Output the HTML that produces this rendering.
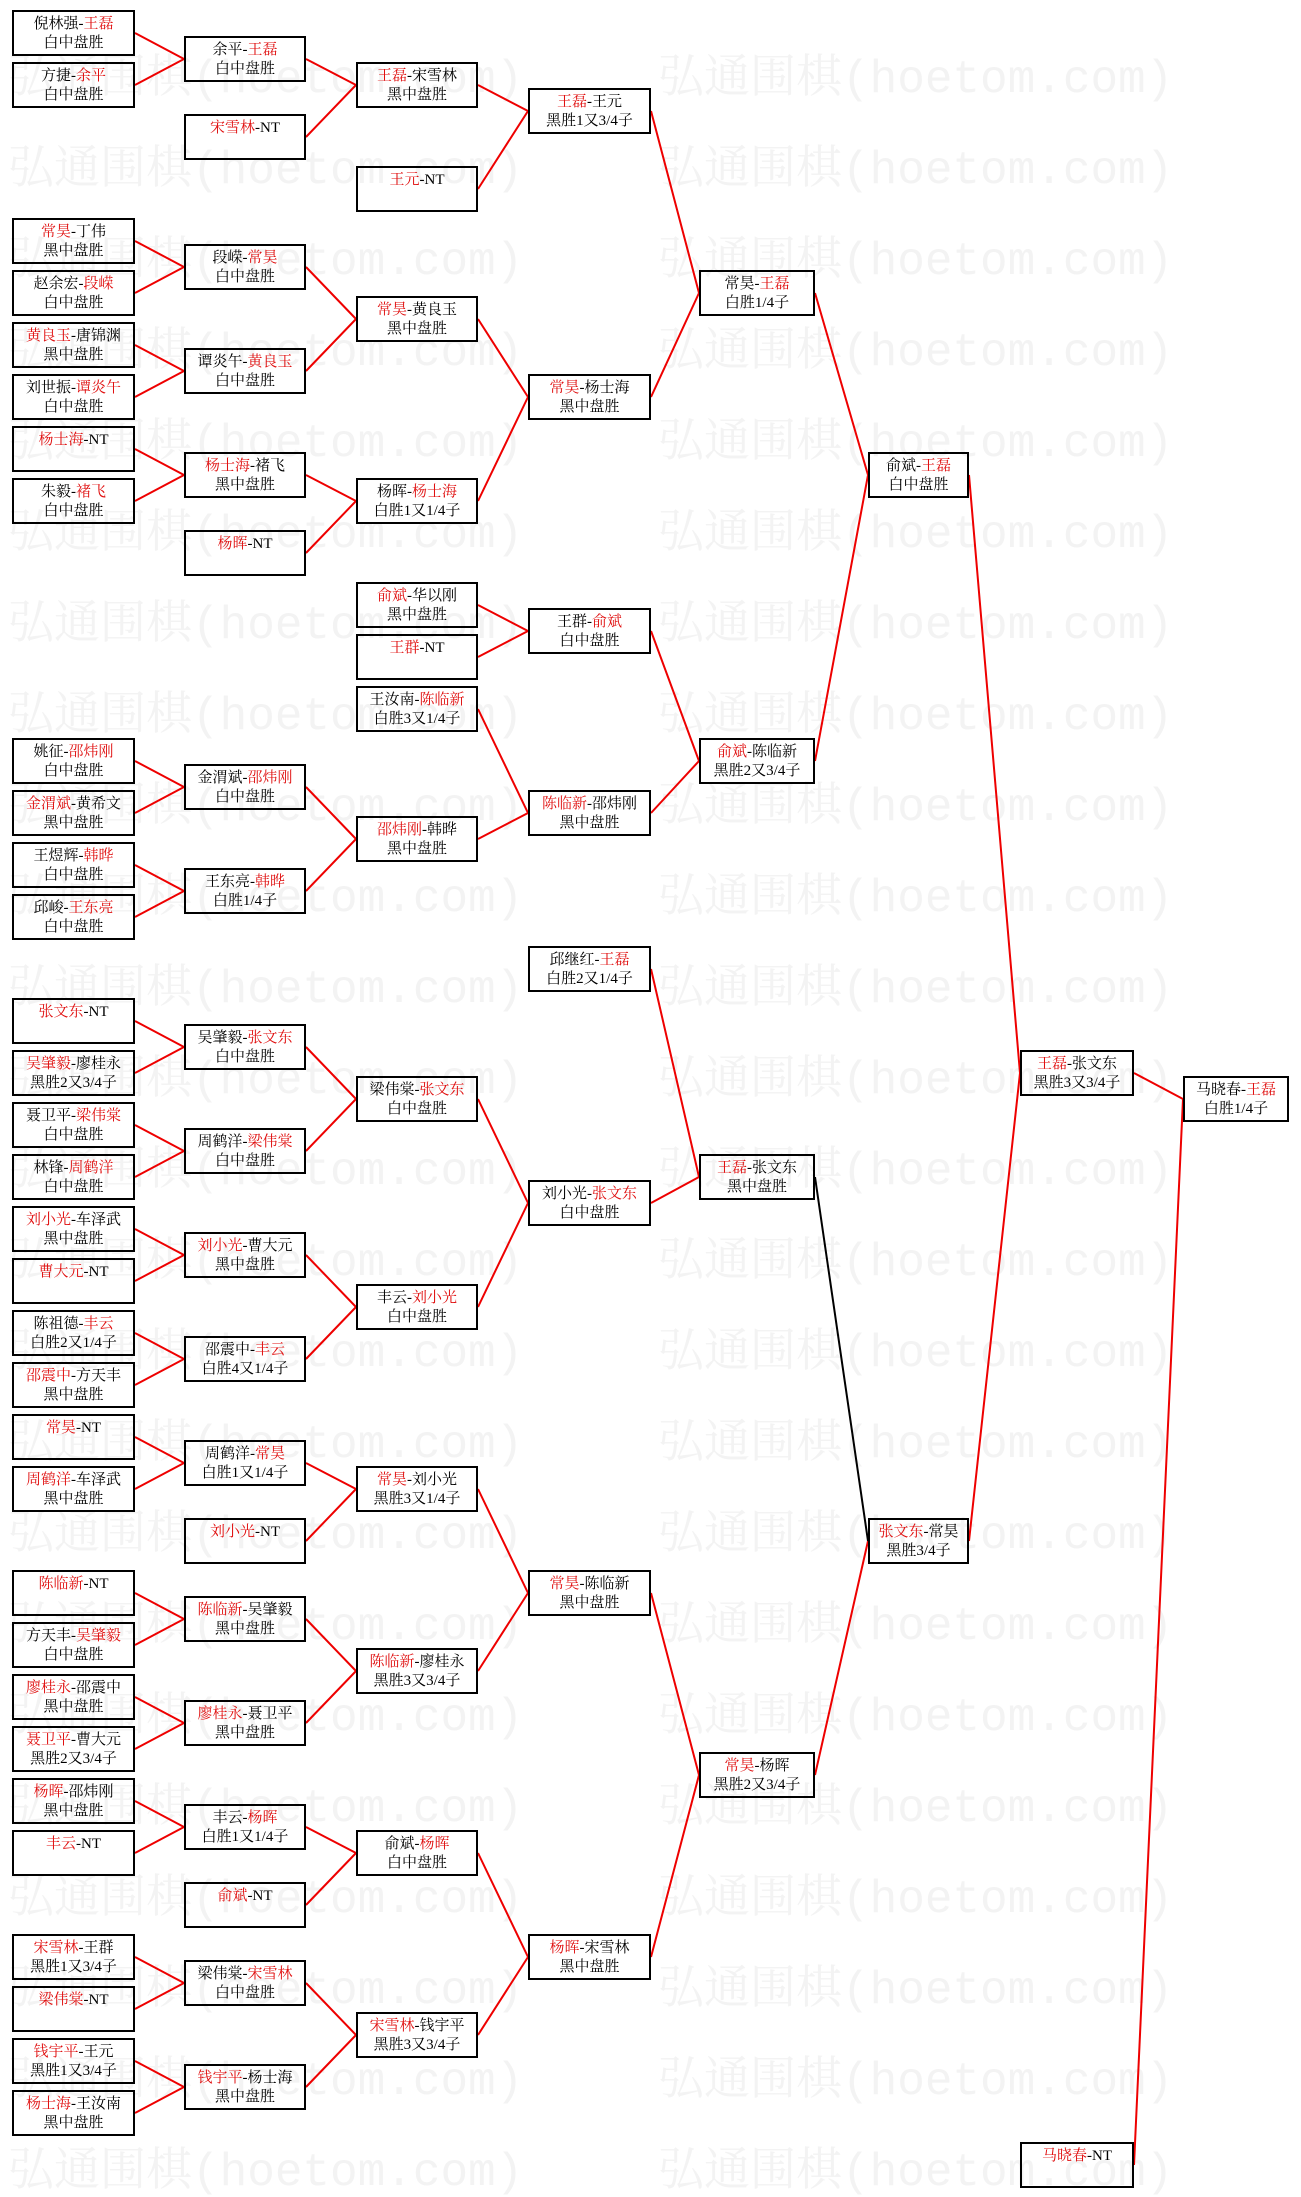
<!DOCTYPE html>
<html><head><meta charset="utf-8"><style>
html,body{margin:0;padding:0;background:#fff;}
#w{position:relative;width:1301px;height:2197px;overflow:hidden;background:#fff;font-family:"Liberation Serif","Noto Serif CJK SC",serif;}
.wm{position:absolute;font-size:46px;color:#f3f3f3;white-space:nowrap;font-family:"Liberation Mono","Noto Serif CJK SC",monospace;}
.b{position:absolute;height:42px;border:2px solid #000;box-sizing:content-box;text-align:center;font-size:15px;line-height:19px;padding-top:0;color:#000;}
.b div{margin-top:3px}
.r{color:#e01010}
svg{position:absolute;left:0;top:0}
</style></head><body><div id="w">
<div id="wms"></div>
<div class="wm" style="left:8px;top:40px">弘通围棋(hoetom.com)</div><div class="wm" style="left:658px;top:40px">弘通围棋(hoetom.com)</div>
<div class="wm" style="left:8px;top:131px">弘通围棋(hoetom.com)</div><div class="wm" style="left:658px;top:131px">弘通围棋(hoetom.com)</div>
<div class="wm" style="left:8px;top:222px">弘通围棋(hoetom.com)</div><div class="wm" style="left:658px;top:222px">弘通围棋(hoetom.com)</div>
<div class="wm" style="left:8px;top:313px">弘通围棋(hoetom.com)</div><div class="wm" style="left:658px;top:313px">弘通围棋(hoetom.com)</div>
<div class="wm" style="left:8px;top:404px">弘通围棋(hoetom.com)</div><div class="wm" style="left:658px;top:404px">弘通围棋(hoetom.com)</div>
<div class="wm" style="left:8px;top:495px">弘通围棋(hoetom.com)</div><div class="wm" style="left:658px;top:495px">弘通围棋(hoetom.com)</div>
<div class="wm" style="left:8px;top:586px">弘通围棋(hoetom.com)</div><div class="wm" style="left:658px;top:586px">弘通围棋(hoetom.com)</div>
<div class="wm" style="left:8px;top:677px">弘通围棋(hoetom.com)</div><div class="wm" style="left:658px;top:677px">弘通围棋(hoetom.com)</div>
<div class="wm" style="left:8px;top:768px">弘通围棋(hoetom.com)</div><div class="wm" style="left:658px;top:768px">弘通围棋(hoetom.com)</div>
<div class="wm" style="left:8px;top:859px">弘通围棋(hoetom.com)</div><div class="wm" style="left:658px;top:859px">弘通围棋(hoetom.com)</div>
<div class="wm" style="left:8px;top:950px">弘通围棋(hoetom.com)</div><div class="wm" style="left:658px;top:950px">弘通围棋(hoetom.com)</div>
<div class="wm" style="left:8px;top:1041px">弘通围棋(hoetom.com)</div><div class="wm" style="left:658px;top:1041px">弘通围棋(hoetom.com)</div>
<div class="wm" style="left:8px;top:1132px">弘通围棋(hoetom.com)</div><div class="wm" style="left:658px;top:1132px">弘通围棋(hoetom.com)</div>
<div class="wm" style="left:8px;top:1223px">弘通围棋(hoetom.com)</div><div class="wm" style="left:658px;top:1223px">弘通围棋(hoetom.com)</div>
<div class="wm" style="left:8px;top:1314px">弘通围棋(hoetom.com)</div><div class="wm" style="left:658px;top:1314px">弘通围棋(hoetom.com)</div>
<div class="wm" style="left:8px;top:1405px">弘通围棋(hoetom.com)</div><div class="wm" style="left:658px;top:1405px">弘通围棋(hoetom.com)</div>
<div class="wm" style="left:8px;top:1496px">弘通围棋(hoetom.com)</div><div class="wm" style="left:658px;top:1496px">弘通围棋(hoetom.com)</div>
<div class="wm" style="left:8px;top:1587px">弘通围棋(hoetom.com)</div><div class="wm" style="left:658px;top:1587px">弘通围棋(hoetom.com)</div>
<div class="wm" style="left:8px;top:1678px">弘通围棋(hoetom.com)</div><div class="wm" style="left:658px;top:1678px">弘通围棋(hoetom.com)</div>
<div class="wm" style="left:8px;top:1769px">弘通围棋(hoetom.com)</div><div class="wm" style="left:658px;top:1769px">弘通围棋(hoetom.com)</div>
<div class="wm" style="left:8px;top:1860px">弘通围棋(hoetom.com)</div><div class="wm" style="left:658px;top:1860px">弘通围棋(hoetom.com)</div>
<div class="wm" style="left:8px;top:1951px">弘通围棋(hoetom.com)</div><div class="wm" style="left:658px;top:1951px">弘通围棋(hoetom.com)</div>
<div class="wm" style="left:8px;top:2042px">弘通围棋(hoetom.com)</div><div class="wm" style="left:658px;top:2042px">弘通围棋(hoetom.com)</div>
<div class="wm" style="left:8px;top:2133px">弘通围棋(hoetom.com)</div><div class="wm" style="left:658px;top:2133px">弘通围棋(hoetom.com)</div>

<svg width="1301" height="2197" fill="none" stroke="#e00" stroke-width="2">
<path d="M135 33L184 59M135 85L184 59M135 241L184 267M135 293L184 267M135 345L184 371M135 397L184 371M135 449L184 475M135 501L184 475M135 761L184 787M135 813L184 787M135 865L184 891M135 917L184 891M135 1021L184 1047M135 1073L184 1047M135 1125L184 1151M135 1177L184 1151M135 1229L184 1255M135 1281L184 1255M135 1333L184 1359M135 1385L184 1359M135 1437L184 1463M135 1489L184 1463M135 1593L184 1619M135 1645L184 1619M135 1697L184 1723M135 1749L184 1723M135 1801L184 1827M135 1853L184 1827M135 1957L184 1983M135 2009L184 1983M135 2061L184 2087M135 2113L184 2087"/>
<path d="M306 59L356 85M306 137L356 85M306 267L356 319M306 371L356 319M306 475L356 501M306 553L356 501M306 787L356 839M306 891L356 839M306 1047L356 1099M306 1151L356 1099M306 1255L356 1307M306 1359L356 1307M306 1463L356 1489M306 1541L356 1489M306 1619L356 1671M306 1723L356 1671M306 1827L356 1853M306 1905L356 1853M306 1983L356 2035M306 2087L356 2035"/>
<path d="M478 85L528 111M478 189L528 111M478 319L528 397M478 501L528 397M478 605L528 631M478 657L528 631M478 709L528 813M478 839L528 813M478 1099L528 1203M478 1307L528 1203M478 1489L528 1593M478 1671L528 1593M478 1853L528 1957M478 2035L528 1957"/>
<path d="M651 111L699 293M651 397L699 293M651 631L699 761M651 813L699 761M651 969L699 1177M651 1203L699 1177M651 1593L699 1775M651 1957L699 1775"/>
<path d="M815 293L868 475M815 761L868 475M815 1775L868 1541M969 475L1020 1073M969 1541L1020 1073M1134 1073L1183 1099M1134 2165L1183 1099"/>
<path d="M815 1177L868 1541" stroke="#000"/>
</svg>

<!-- col0 -->
<div class="b" style="left:12px;top:10px;width:119px"><div>倪林强-<span class="r">王磊</span><br>白中盘胜</div></div>
<div class="b" style="left:12px;top:62px;width:119px"><div>方捷-<span class="r">余平</span><br>白中盘胜</div></div>
<div class="b" style="left:12px;top:218px;width:119px"><div><span class="r">常昊</span>-丁伟<br>黑中盘胜</div></div>
<div class="b" style="left:12px;top:270px;width:119px"><div>赵余宏-<span class="r">段嵘</span><br>白中盘胜</div></div>
<div class="b" style="left:12px;top:322px;width:119px"><div><span class="r">黄良玉</span>-唐锦渊<br>黑中盘胜</div></div>
<div class="b" style="left:12px;top:374px;width:119px"><div>刘世振-<span class="r">谭炎午</span><br>白中盘胜</div></div>
<div class="b" style="left:12px;top:426px;width:119px"><div><span class="r">杨士海</span>-NT</div></div>
<div class="b" style="left:12px;top:478px;width:119px"><div>朱毅-<span class="r">褚飞</span><br>白中盘胜</div></div>
<div class="b" style="left:12px;top:738px;width:119px"><div>姚征-<span class="r">邵炜刚</span><br>白中盘胜</div></div>
<div class="b" style="left:12px;top:790px;width:119px"><div><span class="r">金渭斌</span>-黄希文<br>黑中盘胜</div></div>
<div class="b" style="left:12px;top:842px;width:119px"><div>王煜辉-<span class="r">韩晔</span><br>白中盘胜</div></div>
<div class="b" style="left:12px;top:894px;width:119px"><div>邱峻-<span class="r">王东亮</span><br>白中盘胜</div></div>
<div class="b" style="left:12px;top:998px;width:119px"><div><span class="r">张文东</span>-NT</div></div>
<div class="b" style="left:12px;top:1050px;width:119px"><div><span class="r">吴肇毅</span>-廖桂永<br>黑胜2又3/4子</div></div>
<div class="b" style="left:12px;top:1102px;width:119px"><div>聂卫平-<span class="r">梁伟棠</span><br>白中盘胜</div></div>
<div class="b" style="left:12px;top:1154px;width:119px"><div>林锋-<span class="r">周鹤洋</span><br>白中盘胜</div></div>
<div class="b" style="left:12px;top:1206px;width:119px"><div><span class="r">刘小光</span>-车泽武<br>黑中盘胜</div></div>
<div class="b" style="left:12px;top:1258px;width:119px"><div><span class="r">曹大元</span>-NT</div></div>
<div class="b" style="left:12px;top:1310px;width:119px"><div>陈祖德-<span class="r">丰云</span><br>白胜2又1/4子</div></div>
<div class="b" style="left:12px;top:1362px;width:119px"><div><span class="r">邵震中</span>-方天丰<br>黑中盘胜</div></div>
<div class="b" style="left:12px;top:1414px;width:119px"><div><span class="r">常昊</span>-NT</div></div>
<div class="b" style="left:12px;top:1466px;width:119px"><div><span class="r">周鹤洋</span>-车泽武<br>黑中盘胜</div></div>
<div class="b" style="left:12px;top:1570px;width:119px"><div><span class="r">陈临新</span>-NT</div></div>
<div class="b" style="left:12px;top:1622px;width:119px"><div>方天丰-<span class="r">吴肇毅</span><br>白中盘胜</div></div>
<div class="b" style="left:12px;top:1674px;width:119px"><div><span class="r">廖桂永</span>-邵震中<br>黑中盘胜</div></div>
<div class="b" style="left:12px;top:1726px;width:119px"><div><span class="r">聂卫平</span>-曹大元<br>黑胜2又3/4子</div></div>
<div class="b" style="left:12px;top:1778px;width:119px"><div><span class="r">杨晖</span>-邵炜刚<br>黑中盘胜</div></div>
<div class="b" style="left:12px;top:1830px;width:119px"><div><span class="r">丰云</span>-NT</div></div>
<div class="b" style="left:12px;top:1934px;width:119px"><div><span class="r">宋雪林</span>-王群<br>黑胜1又3/4子</div></div>
<div class="b" style="left:12px;top:1986px;width:119px"><div><span class="r">梁伟棠</span>-NT</div></div>
<div class="b" style="left:12px;top:2038px;width:119px"><div><span class="r">钱宇平</span>-王元<br>黑胜1又3/4子</div></div>
<div class="b" style="left:12px;top:2090px;width:119px"><div><span class="r">杨士海</span>-王汝南<br>黑中盘胜</div></div>
<!-- col1 -->
<div class="b" style="left:184px;top:36px;width:118px"><div>余平-<span class="r">王磊</span><br>白中盘胜</div></div>
<div class="b" style="left:184px;top:114px;width:118px"><div><span class="r">宋雪林</span>-NT</div></div>
<div class="b" style="left:184px;top:244px;width:118px"><div>段嵘-<span class="r">常昊</span><br>白中盘胜</div></div>
<div class="b" style="left:184px;top:348px;width:118px"><div>谭炎午-<span class="r">黄良玉</span><br>白中盘胜</div></div>
<div class="b" style="left:184px;top:452px;width:118px"><div><span class="r">杨士海</span>-褚飞<br>黑中盘胜</div></div>
<div class="b" style="left:184px;top:530px;width:118px"><div><span class="r">杨晖</span>-NT</div></div>
<div class="b" style="left:184px;top:764px;width:118px"><div>金渭斌-<span class="r">邵炜刚</span><br>白中盘胜</div></div>
<div class="b" style="left:184px;top:868px;width:118px"><div>王东亮-<span class="r">韩晔</span><br>白胜1/4子</div></div>
<div class="b" style="left:184px;top:1024px;width:118px"><div>吴肇毅-<span class="r">张文东</span><br>白中盘胜</div></div>
<div class="b" style="left:184px;top:1128px;width:118px"><div>周鹤洋-<span class="r">梁伟棠</span><br>白中盘胜</div></div>
<div class="b" style="left:184px;top:1232px;width:118px"><div><span class="r">刘小光</span>-曹大元<br>黑中盘胜</div></div>
<div class="b" style="left:184px;top:1336px;width:118px"><div>邵震中-<span class="r">丰云</span><br>白胜4又1/4子</div></div>
<div class="b" style="left:184px;top:1440px;width:118px"><div>周鹤洋-<span class="r">常昊</span><br>白胜1又1/4子</div></div>
<div class="b" style="left:184px;top:1518px;width:118px"><div><span class="r">刘小光</span>-NT</div></div>
<div class="b" style="left:184px;top:1596px;width:118px"><div><span class="r">陈临新</span>-吴肇毅<br>黑中盘胜</div></div>
<div class="b" style="left:184px;top:1700px;width:118px"><div><span class="r">廖桂永</span>-聂卫平<br>黑中盘胜</div></div>
<div class="b" style="left:184px;top:1804px;width:118px"><div>丰云-<span class="r">杨晖</span><br>白胜1又1/4子</div></div>
<div class="b" style="left:184px;top:1882px;width:118px"><div><span class="r">俞斌</span>-NT</div></div>
<div class="b" style="left:184px;top:1960px;width:118px"><div>梁伟棠-<span class="r">宋雪林</span><br>白中盘胜</div></div>
<div class="b" style="left:184px;top:2064px;width:118px"><div><span class="r">钱宇平</span>-杨士海<br>黑中盘胜</div></div>
<!-- col2 -->
<div class="b" style="left:356px;top:62px;width:118px"><div><span class="r">王磊</span>-宋雪林<br>黑中盘胜</div></div>
<div class="b" style="left:356px;top:166px;width:118px"><div><span class="r">王元</span>-NT</div></div>
<div class="b" style="left:356px;top:296px;width:118px"><div><span class="r">常昊</span>-黄良玉<br>黑中盘胜</div></div>
<div class="b" style="left:356px;top:478px;width:118px"><div>杨晖-<span class="r">杨士海</span><br>白胜1又1/4子</div></div>
<div class="b" style="left:356px;top:582px;width:118px"><div><span class="r">俞斌</span>-华以刚<br>黑中盘胜</div></div>
<div class="b" style="left:356px;top:634px;width:118px"><div><span class="r">王群</span>-NT</div></div>
<div class="b" style="left:356px;top:686px;width:118px"><div>王汝南-<span class="r">陈临新</span><br>白胜3又1/4子</div></div>
<div class="b" style="left:356px;top:816px;width:118px"><div><span class="r">邵炜刚</span>-韩晔<br>黑中盘胜</div></div>
<div class="b" style="left:356px;top:1076px;width:118px"><div>梁伟棠-<span class="r">张文东</span><br>白中盘胜</div></div>
<div class="b" style="left:356px;top:1284px;width:118px"><div>丰云-<span class="r">刘小光</span><br>白中盘胜</div></div>
<div class="b" style="left:356px;top:1466px;width:118px"><div><span class="r">常昊</span>-刘小光<br>黑胜3又1/4子</div></div>
<div class="b" style="left:356px;top:1648px;width:118px"><div><span class="r">陈临新</span>-廖桂永<br>黑胜3又3/4子</div></div>
<div class="b" style="left:356px;top:1830px;width:118px"><div>俞斌-<span class="r">杨晖</span><br>白中盘胜</div></div>
<div class="b" style="left:356px;top:2012px;width:118px"><div><span class="r">宋雪林</span>-钱宇平<br>黑胜3又3/4子</div></div>
<!-- col3 -->
<div class="b" style="left:528px;top:88px;width:119px"><div><span class="r">王磊</span>-王元<br>黑胜1又3/4子</div></div>
<div class="b" style="left:528px;top:374px;width:119px"><div><span class="r">常昊</span>-杨士海<br>黑中盘胜</div></div>
<div class="b" style="left:528px;top:608px;width:119px"><div>王群-<span class="r">俞斌</span><br>白中盘胜</div></div>
<div class="b" style="left:528px;top:790px;width:119px"><div><span class="r">陈临新</span>-邵炜刚<br>黑中盘胜</div></div>
<div class="b" style="left:528px;top:946px;width:119px"><div>邱继红-<span class="r">王磊</span><br>白胜2又1/4子</div></div>
<div class="b" style="left:528px;top:1180px;width:119px"><div>刘小光-<span class="r">张文东</span><br>白中盘胜</div></div>
<div class="b" style="left:528px;top:1570px;width:119px"><div><span class="r">常昊</span>-陈临新<br>黑中盘胜</div></div>
<div class="b" style="left:528px;top:1934px;width:119px"><div><span class="r">杨晖</span>-宋雪林<br>黑中盘胜</div></div>
<!-- col4 -->
<div class="b" style="left:699px;top:270px;width:112px"><div>常昊-<span class="r">王磊</span><br>白胜1/4子</div></div>
<div class="b" style="left:699px;top:738px;width:112px"><div><span class="r">俞斌</span>-陈临新<br>黑胜2又3/4子</div></div>
<div class="b" style="left:699px;top:1154px;width:112px"><div><span class="r">王磊</span>-张文东<br>黑中盘胜</div></div>
<div class="b" style="left:699px;top:1752px;width:112px"><div><span class="r">常昊</span>-杨晖<br>黑胜2又3/4子</div></div>
<!-- col5 -->
<div class="b" style="left:868px;top:452px;width:97px"><div>俞斌-<span class="r">王磊</span><br>白中盘胜</div></div>
<div class="b" style="left:868px;top:1518px;width:97px"><div><span class="r">张文东</span>-常昊<br>黑胜3/4子</div></div>
<!-- col6 -->
<div class="b" style="left:1020px;top:1050px;width:110px"><div><span class="r">王磊</span>-张文东<br>黑胜3又3/4子</div></div>
<div class="b" style="left:1020px;top:2142px;width:110px"><div><span class="r">马晓春</span>-NT</div></div>
<!-- col7 -->
<div class="b" style="left:1183px;top:1076px;width:102px"><div>马晓春-<span class="r">王磊</span><br>白胜1/4子</div></div>
</div></body></html>
